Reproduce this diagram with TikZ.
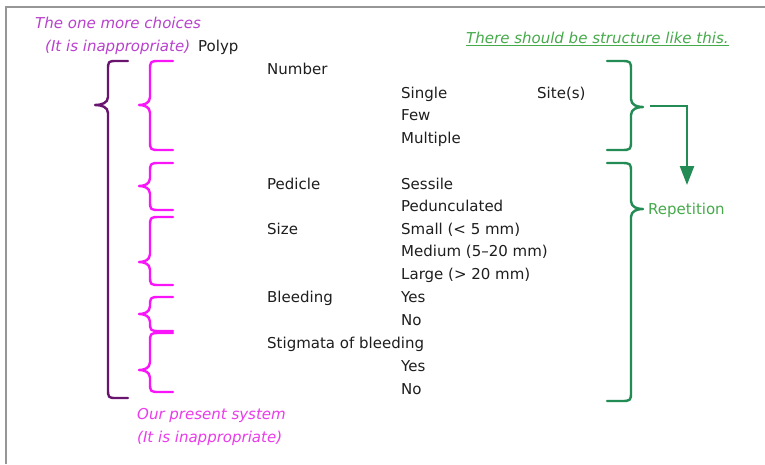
\documentclass[tikz,border=0pt]{standalone}
\usepackage{fontspec}
\setmainfont{DejaVu Sans}
\usetikzlibrary{arrows.meta,positioning}

\definecolor{ink}{RGB}{30,30,30}
\definecolor{plum}{RGB}{105,20,110}
\definecolor{pinkbr}{RGB}{250,20,250}
\definecolor{orchidtxt}{RGB}{185,65,205}
\definecolor{pinktxt}{RGB}{235,60,235}
\definecolor{greenbr}{RGB}{35,140,85}
\definecolor{greentxt}{RGB}{70,170,75}
\definecolor{framegray}{RGB}{150,150,150}

% #1 style, #2 hook x, #3 stem x, #4 tip x, #5 top y, #6 tip y, #7 bottom y
\newcommand{\drawbrace}[7]{%
  \draw[#1] (#2,#5) -- ({#3+0.45*(#2-#3)},#5) .. controls (#3,#5) .. (#3,#5+10)
    -- (#3,#6-8) .. controls (#3,#6-2) and ({0.5*#3+0.5*#4},#6) .. (#4,#6)
    .. controls ({0.5*#3+0.5*#4},#6) and (#3,#6+2) .. (#3,#6+8)
    -- (#3,#7-10) .. controls (#3,#7) .. ({#3+0.45*(#2-#3)},#7) -- (#2,#7);}

\begin{document}
\begin{tikzpicture}[
    x=1pt, y=-1pt,
    txt/.style={anchor=base west, inner sep=0pt, text=ink, font=\fontsize{15}{18}\selectfont},
    note/.style={txt, font=\fontsize{15}{18}\selectfont\itshape},
    brc/.style={line width=2.4pt, line cap=round, line join=round},
    arrow/.style={-{Triangle[length=19pt,width=14pt]}, line width=2.3pt, greenbr}
]
\useasboundingbox (0,0) rectangle (765,464);
\fill[white] (0,0) rectangle (765,464);
\draw[framegray, line width=2pt] (6,464) -- (6,7) -- (765,7);

% headings
\node[note, text=orchidtxt] (choices) at (35,28.5) {The one more choices};
\node[note, text=orchidtxt] (inapptop) at (45,51.5) {(It is inappropriate)};
\node[txt] (polyp) at (198,51.5) {Polyp};
\node[note, text=greentxt] (should) at (466,43.5) {\underline{There should be structure like this.}};

% items
\node[txt] (number) at (267,74.5) {Number};
\node[txt] (single) at (401,98.5) {Single};
\node[txt] (few) at (401,120.5) {Few};
\node[txt] (multiple) at (401,143.5) {Multiple};
\node[txt] (sites) at (537,98.5) {Site(s)};
\node[txt] (pedicle) at (267,189.5) {Pedicle};
\node[txt] (sessile) at (401,189.5) {Sessile};
\node[txt] (pedunc) at (401,211.5) {Pedunculated};
\node[txt] (size) at (267,234.5) {Size};
\node[txt] (small) at (401,234.5) {Small (< 5 mm)};
\node[txt] (medium) at (401,256.5) {Medium (5--20 mm)};
\node[txt] (large) at (401,279.5) {Large (> 20 mm)};
\node[txt] (bleeding) at (267,302.5) {Bleeding};
\node[txt] (bleedyes) at (401,302.5) {Yes};
\node[txt] (bleedno) at (401,325.5) {No};
\node[txt] (stigmata) at (267,348.5) {Stigmata of bleeding};
\node[txt] (stigyes) at (401,371.5) {Yes};
\node[txt] (stigno) at (401,394.5) {No};

% braces
\drawbrace{brc, plum}{128}{108}{95}{61}{105}{398}
\drawbrace{brc, pinkbr}{173}{150}{139}{61}{105}{150}
\drawbrace{brc, pinkbr}{173}{150}{139}{163}{186}{210}
\drawbrace{brc, pinkbr}{173}{150}{139}{217}{262}{285}
\drawbrace{brc, pinkbr}{173}{150}{139}{297}{314}{331}
\drawbrace{brc, pinkbr}{173}{150}{139}{333}{370}{392}
\drawbrace{brc, greenbr}{607}{631}{643}{61}{107}{150}
\drawbrace{brc, greenbr}{607}{631}{643}{163}{209}{401}

\node[txt, text=greentxt] (repeat) at (648,214.5) {Repetition};
\node[note, text=pinktxt] (present) at (137,419.5) {Our present system};
\node[note, text=pinktxt] (inappbot) at (137,442.5) {(It is inappropriate)};

\coordinate (sitetip) at (650,106);
\coordinate (reptop) at (687,185);
\draw[arrow] (sitetip) -| (reptop);
\end{tikzpicture}
\end{document}
